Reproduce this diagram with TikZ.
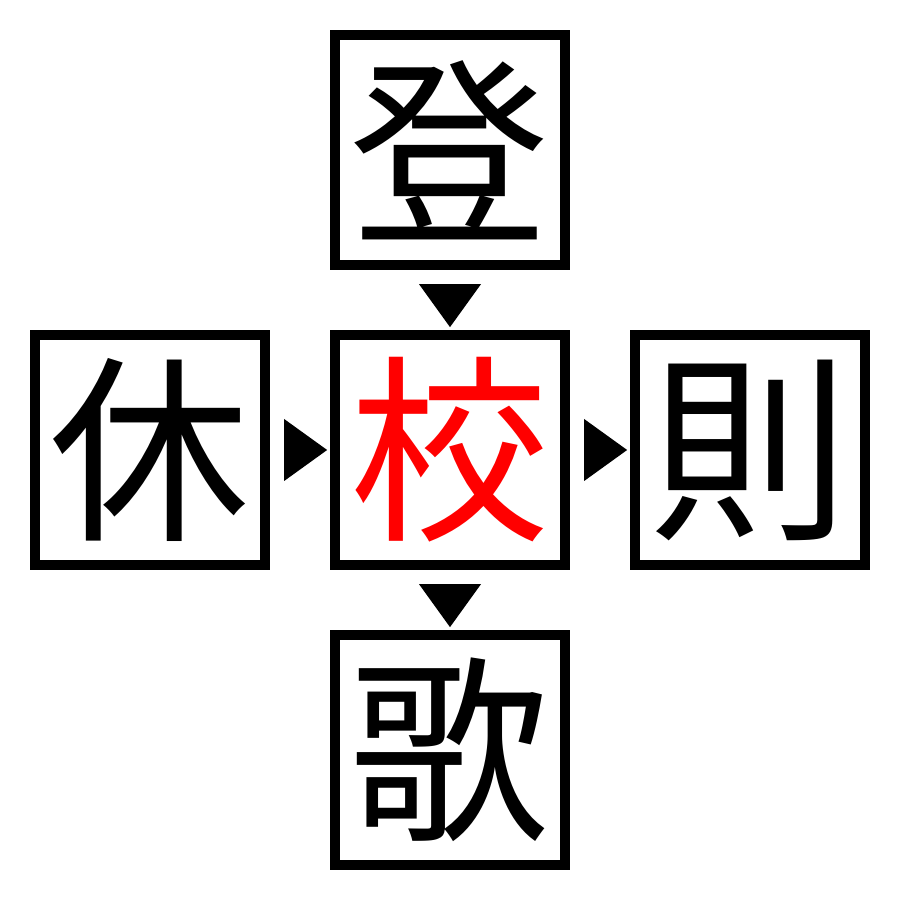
\documentclass[tikz,border=0pt]{standalone}
\usepackage{fontspec}
\newfontfamily\cjk{Noto Sans CJK JP}
\usetikzlibrary{shapes.geometric,calc}
\tikzset{
  kanji/.style={draw, line width=0.1cm, minimum size=2.3cm, inner sep=0pt, font=\cjk\fontsize{57}{57}\selectfont},
  marker/.style={fill, draw=none, isosceles triangle, isosceles triangle stretches, inner sep=0pt, minimum width=0.62cm, minimum height=0.43cm}
}
\begin{document}
\begin{tikzpicture}
\useasboundingbox (0,0) rectangle (9,9);
\node[kanji] (top) at (4.5,7.5) {登};
\node[kanji] (left) at (1.5,4.5) {休};
\node[kanji,text=red] (mid) at (4.5,4.5) {校};
\node[kanji] (right) at (7.5,4.5) {則};
\node[kanji] (bottom) at (4.5,1.5) {歌};

\node[marker, shape border rotate=-90] (t1) at ($(top)!0.5!(mid)$) {};
\node[marker] (t2) at ($(left)!0.5!(mid)$) {};
\node[marker] (t3) at ($(mid)!0.5!(right)$) {};
\node[marker, shape border rotate=-90] (t4) at ($(mid)!0.5!(bottom)$) {};
\end{tikzpicture}
\end{document}
